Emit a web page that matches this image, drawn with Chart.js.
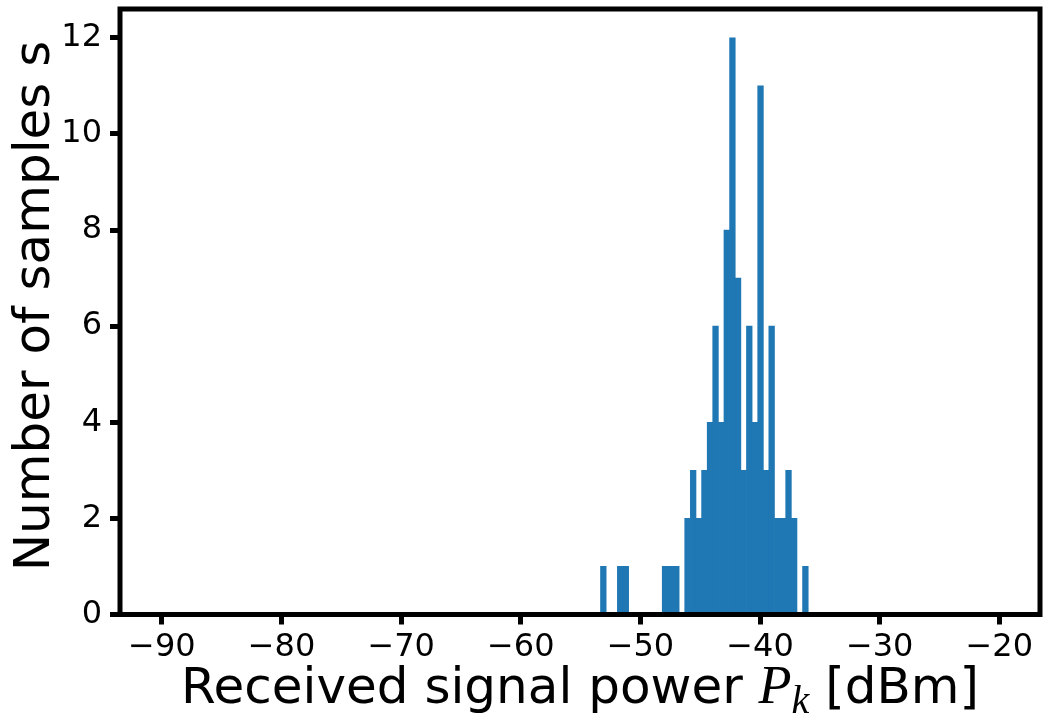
<!DOCTYPE html>
<html>
<head>
<meta charset="utf-8">
<script src="https://cdn.jsdelivr.net/npm/chart.js@4"></script>
<style>
  html, body { margin: 0; padding: 0; background: #fff; }
  #wrap { width: 1043px; height: 718px; }
</style>
</head>
<body>
<div id="wrap"><canvas id="hist" width="1043" height="718"></canvas></div>
<script>
// histogram bins (centres in dBm) and counts
const binCenters = [
  -53.10, -52.63, -52.16, -51.69, -51.22, -50.75, -50.28, -49.81, -49.34, -48.87,
  -48.41, -47.94, -47.47, -47.00, -46.53, -46.06, -45.59, -45.12, -44.65, -44.18,
  -43.72, -43.25, -42.78, -42.31, -41.84, -41.37, -40.90, -40.43, -39.96, -39.49,
  -39.03, -38.56, -38.09, -37.62, -37.15, -36.68, -36.21
];
const sampleCounts = [
  1, 0, 0, 1, 1, 0, 0, 0, 0, 0,
  0, 1, 1, 1, 0, 2, 3, 2, 3, 4,
  6, 4, 8, 12, 7, 3, 6, 4, 11, 3,
  6, 2, 2, 3, 2, 0, 1
];
const xTickValues = [-90, -80, -70, -60, -50, -40, -30, -20];
const yTickValues = [0, 2, 4, 6, 8, 10, 12];

const FONT = "'DejaVu Sans', sans-serif";

// frame + axis titles, matplotlib style
const framePlugin = {
  id: "frame",
  afterDatasetsDraw(chart) {
    const { ctx, chartArea: a } = chart;
    ctx.save();
    ctx.strokeStyle = "#000";
    ctx.lineWidth = 5;
    ctx.strokeRect(a.left, a.top, a.right - a.left, a.bottom - a.top);
    ctx.restore();
  },
  afterDraw(chart) {
    const { ctx, chartArea: a } = chart;
    ctx.save();
    ctx.fillStyle = "#000";
    ctx.textBaseline = "alphabetic";

    // x title with math P_k
    const sans = "50px " + FONT;
    const serifIt = "italic 54px 'Liberation Serif', 'DejaVu Serif', serif";
    const subIt = "italic 40px 'Liberation Serif', 'DejaVu Serif', serif";
    const parts = [
      { t: "Received signal power ", f: sans, dy: 0 },
      { t: "P", f: serifIt, dy: 0 },
      { t: "k", f: subIt, dy: 10 },
      { t: " [dBm]", f: sans, dy: 0 },
    ];
    let total = 0;
    parts.forEach((p) => { ctx.font = p.f; p.w = ctx.measureText(p.t).width; total += p.w; });
    let x = (a.left + a.right) / 2 - total / 2;
    const base = a.bottom + 88;
    parts.forEach((p) => {
      ctx.font = p.f;
      ctx.fillText(p.t, x, base + p.dy);
      x += p.w;
    });

    // y title
    ctx.translate(49, 306);
    ctx.rotate(-Math.PI / 2);
    ctx.font = "50px " + FONT;
    ctx.textAlign = "center";
    ctx.fillText("Number of samples s", 0, 0);
    ctx.restore();
  },
};

new Chart(document.getElementById("hist"), {
  type: "bar",
  data: {
    datasets: [
      {
        data: binCenters.map((c, i) => ({ x: c, y: sampleCounts[i] })),
        backgroundColor: "#1f77b4",
        borderWidth: 0,
        inflateAmount: 0.4,
        barPercentage: 1.0,
        categoryPercentage: 1.0,
      },
    ],
  },
  options: {
    responsive: false,
    animation: false,
    devicePixelRatio: 1,
    layout: { padding: { top: 9, right: 3, left: 0, bottom: 0 } },
    plugins: {
      legend: { display: false },
      tooltip: { enabled: false },
    },
    scales: {
      x: {
        type: "linear",
        min: -93.5,
        max: -16.6,
        offset: false,
        border: { display: false },
        grid: {
          offset: false,
          drawOnChartArea: false,
          tickLength: 10,
          tickWidth: 5,
          tickColor: "#000",
        },
        afterBuildTicks: (scale) => {
          scale.ticks = xTickValues.map((v) => ({ value: v }));
        },
        afterFit: (scale) => {
          scale.height = 103.5;
          scale.paddingLeft = 0;
          scale.paddingRight = 0;
        },
        ticks: {
          color: "#000",
          font: { family: FONT, size: 32 },
          padding: 4,
          maxRotation: 0,
          callback: (v) => String(v).replace("-", "\u2212"),
        },
      },
      y: {
        min: 0,
        max: 12.6,
        border: { display: false },
        grid: {
          drawOnChartArea: false,
          tickLength: 10,
          tickWidth: 5,
          tickColor: "#000",
        },
        afterBuildTicks: (scale) => {
          scale.ticks = yTickValues.map((v) => ({ value: v }));
        },
        afterFit: (scale) => {
          scale.width = 120;
          scale.paddingTop = 0;
          scale.paddingBottom = 0;
        },
        ticks: {
          color: "#000",
          font: { family: FONT, size: 32 },
          padding: 8,
        },
      },
    },
  },
  plugins: [framePlugin],
});
</script>
</body>
</html>
